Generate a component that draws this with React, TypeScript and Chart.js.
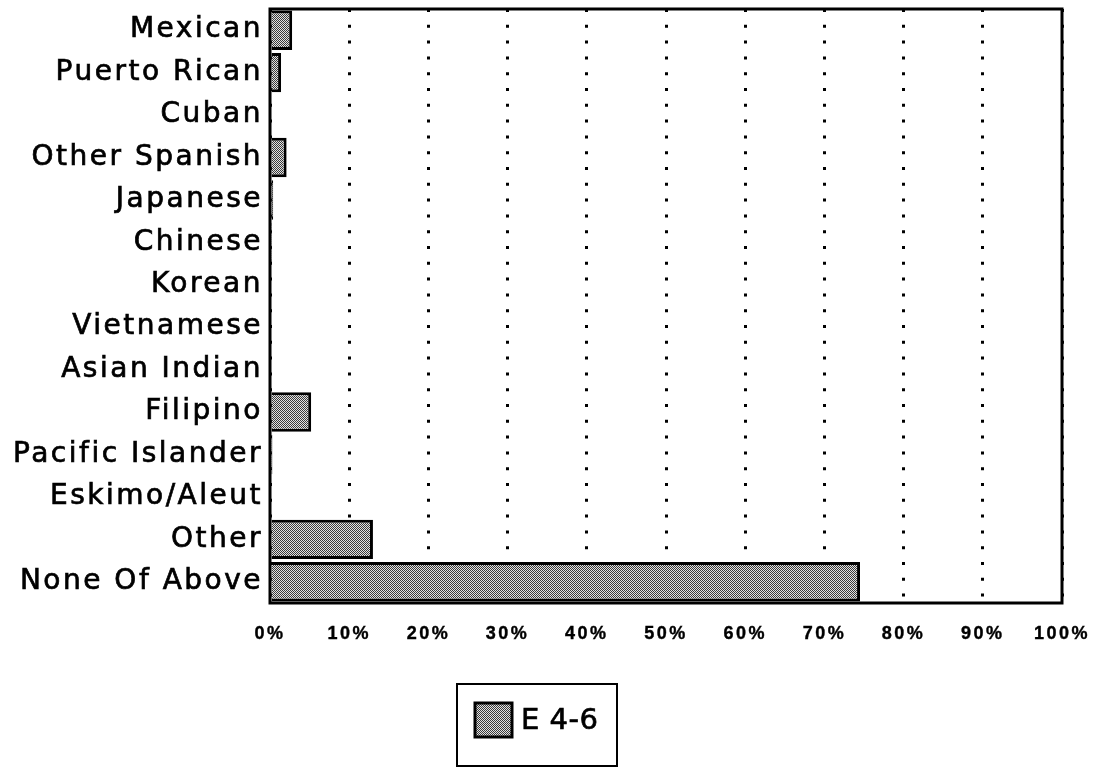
import React, { useEffect, useRef } from "react";
import { Chart, registerables } from "chart.js";

Chart.register(...registerables);

const categories = [
  "Mexican",
  "Puerto Rican",
  "Cuban",
  "Other Spanish",
  "Japanese",
  "Chinese",
  "Korean",
  "Vietnamese",
  "Asian Indian",
  "Filipino",
  "Pacific Islander",
  "Eskimo/Aleut",
  "Other",
  "None Of Above",
];
const seriesLabel = "E 4-6";
const values = [2.8, 1.4, 0, 2.1, 0.4, 0.1, 0, 0, 0, 5.2, 0.3, 0, 13.0, 74.5];
const xMin = 0;
const xMax = 100;
const xStep = 10;

const FONT = "'DejaVu Sans', 'Liberation Sans', Arial, sans-serif";
const TICK_FONT = "'Liberation Sans', Arial, Helvetica, sans-serif";

function makePattern(): CanvasPattern | string {
  const c = document.createElement("canvas");
  c.width = 2;
  c.height = 2;
  const g = c.getContext("2d");
  if (!g) return "#909090";
  g.fillStyle = "#e2e2e2";
  g.fillRect(0, 0, 2, 2);
  g.fillStyle = "#3a3a3a";
  g.fillRect(0, 0, 1, 1);
  g.fillRect(1, 1, 1, 1);
  const p = g.createPattern(c, "repeat");
  return p || "#909090";
}

export default function App() {
  const ref = useRef<HTMLCanvasElement | null>(null);

  useEffect(() => {
    document.body.style.margin = "0";
    document.body.style.overflow = "hidden";
    const canvas = ref.current;
    if (!canvas) return;
    const pattern = makePattern();

    const setSpacing = (chart: any) => {
      (chart.ctx as any).letterSpacing = "2.5px";
    };

    const framePlugin = {
      id: "frameAndLegend",
      beforeUpdate: setSpacing,
      beforeLayout: setSpacing,
      beforeDraw: setSpacing,
      afterDraw(chart: any) {
        const ctx = chart.ctx as CanvasRenderingContext2D;
        const a = chart.chartArea;
        ctx.save();
        (ctx as any).letterSpacing = "0px";
        ctx.strokeStyle = "#000";
        ctx.lineWidth = 3;
        ctx.strokeRect(a.left, a.top, a.right - a.left, a.bottom - a.top);

        // legend
        const bx = 457;
        const by = 684;
        const bw = 160;
        const bh = 82;
        ctx.lineWidth = 2;
        ctx.strokeRect(bx, by, bw, bh);
        const sx = bx + 18;
        const sy = by + 19;
        ctx.fillStyle = pattern as any;
        ctx.fillRect(sx, sy, 37, 34);
        ctx.lineWidth = 3;
        ctx.strokeRect(sx, sy, 37, 34);
        ctx.fillStyle = "#000";
        (ctx as any).letterSpacing = "0.5px";
        ctx.font = `29px ${FONT}`;
        ctx.textBaseline = "middle";
        ctx.textAlign = "left";
        ctx.lineWidth = 0.7;
        ctx.fillText(chart.data.datasets[0].label, sx + 46, sy + 18);
        ctx.strokeText(chart.data.datasets[0].label, sx + 46, sy + 18);
        ctx.restore();
      },
    };

    const chart = new Chart(canvas, {
      type: "bar",
      data: {
        labels: categories,
        datasets: [
          {
            label: seriesLabel,
            data: values,
            backgroundColor: pattern as any,
            borderColor: "#000",
            borderWidth: 3,
            barPercentage: 0.93,
            categoryPercentage: 1,
          },
        ],
      },
      options: {
        indexAxis: "y",
        animation: false,
        responsive: true,
        maintainAspectRatio: false,
        layout: { padding: { left: 0, top: 9, right: 39, bottom: 106 } },
        plugins: {
          legend: { display: false },
          tooltip: { enabled: false },
        },
        scales: {
          x: {
            type: "linear",
            min: xMin,
            max: xMax,
            ticks: {
              stepSize: xStep,
              color: "#000",
              padding: 20,
              font: { family: TICK_FONT, size: 18, weight: "bold" },
              textStrokeColor: "#000",
              textStrokeWidth: 0.4,
              callback: (v: any) => `${v}%`,
            },
            grid: {
              color: "#000",
              lineWidth: 3,
              drawTicks: false,
            },
            border: { display: false, dash: [3, 12.8] },
            afterFit: (s: any) => {
              s.height = 60;
              s.paddingLeft = 0;
              s.paddingRight = 0;
            },
          },
          y: {
            ticks: {
              color: "#000",
              padding: 7,
              font: { family: FONT, size: 28 },
              textStrokeColor: "#000",
              textStrokeWidth: 0.7,
              autoSkip: false,
            },
            grid: { display: false, drawTicks: false },
            border: { display: false },
            afterFit: (s: any) => {
              s.width = 270;
              s.paddingTop = 0;
              s.paddingBottom = 0;
            },
          },
        },
      },
      plugins: [framePlugin],
    });

    return () => chart.destroy();
  }, []);

  return (
    <div style={{ position: "relative", width: 1101, height: 769, background: "#fff" }}>
      <canvas ref={ref} />
    </div>
  );
}
